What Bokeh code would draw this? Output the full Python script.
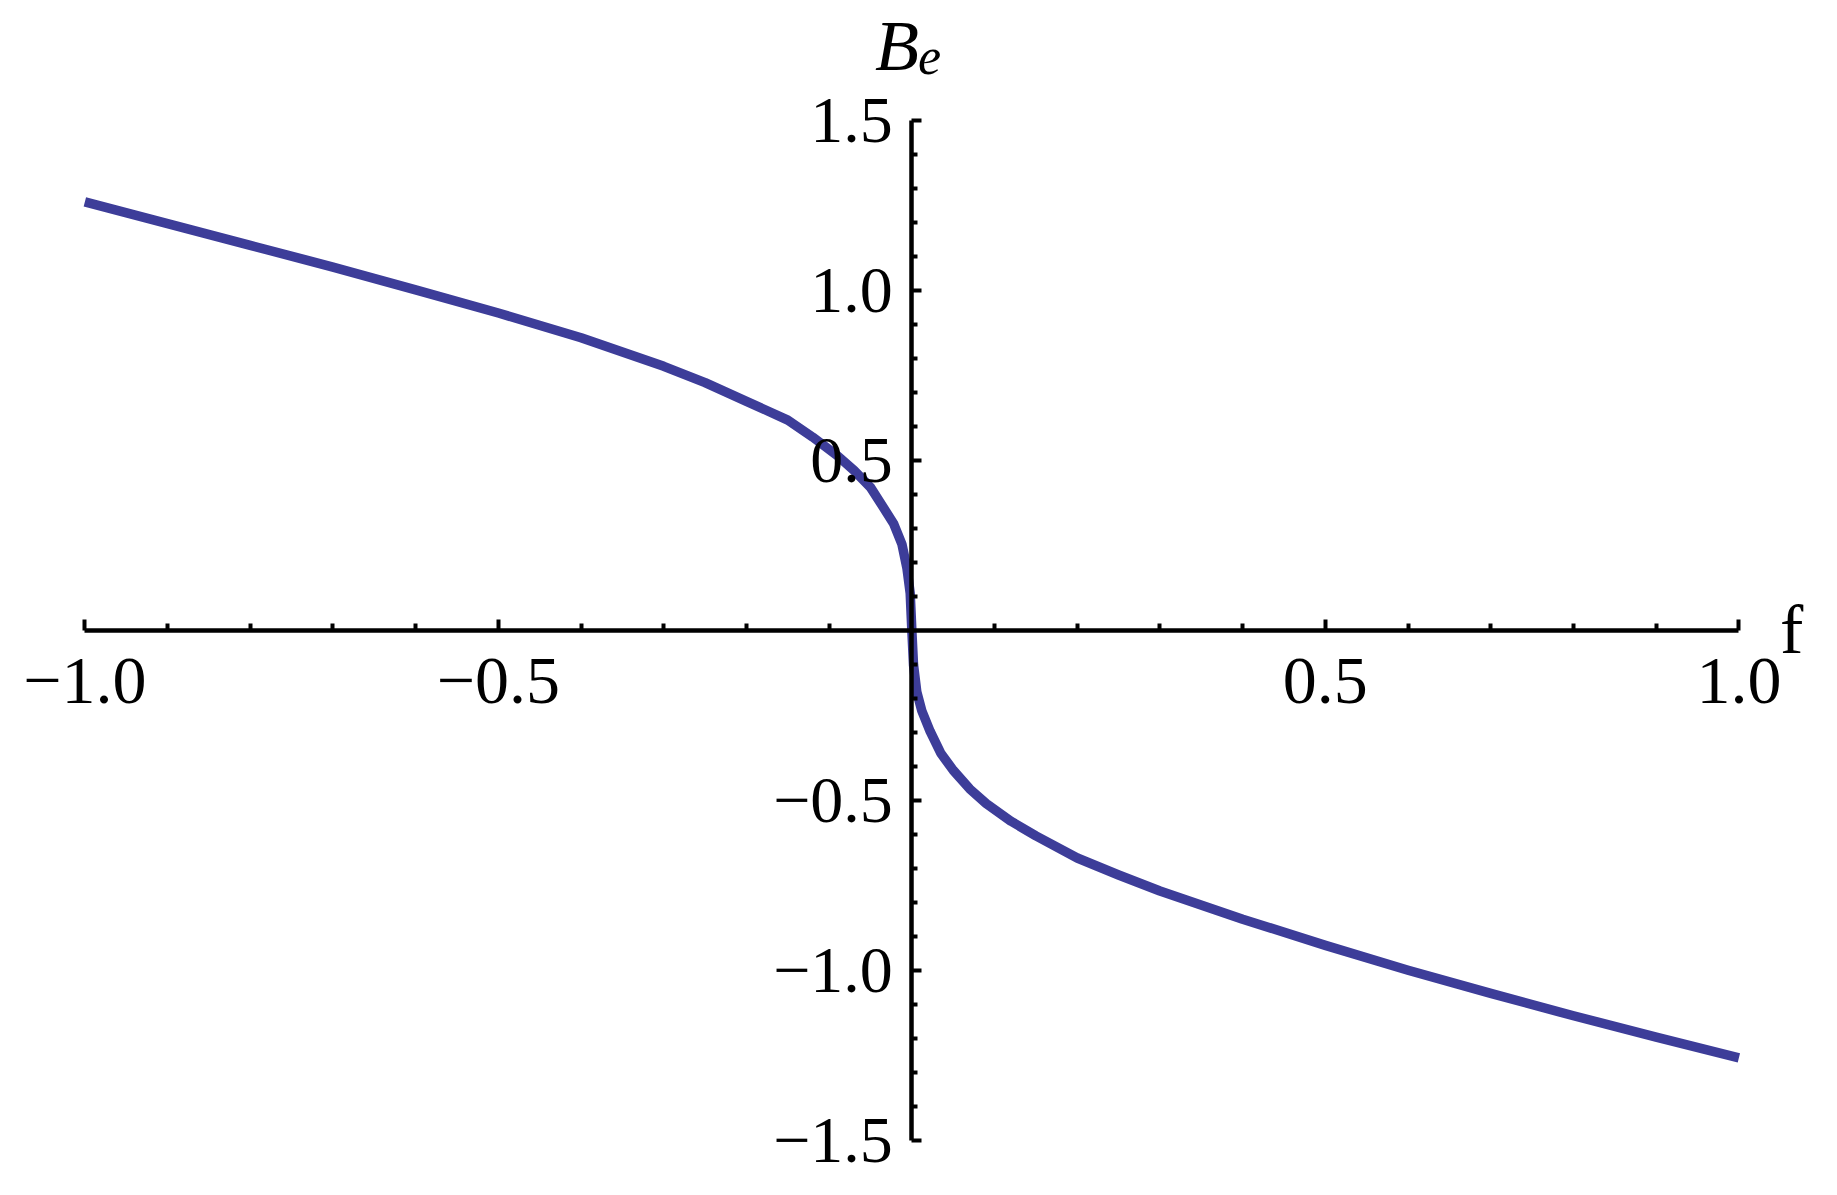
from bokeh.plotting import figure
from bokeh.models import Range1d, LinearAxis, FixedTicker, Label
from bokeh.embed import file_html
from bokeh.resources import INLINE

# ---- data ----
f_values = [-1.0, -0.9, -0.8, -0.7, -0.6, -0.5, -0.4, -0.3, -0.25, -0.2,
            -0.15, -0.12, -0.09, -0.07, -0.05, -0.035, -0.022, -0.012, -0.006, -0.002,
            0.0,
            0.002, 0.006, 0.012, 0.022, 0.035, 0.05, 0.07, 0.09, 0.12, 0.15,
            0.2, 0.25, 0.3, 0.4, 0.5, 0.6, 0.7, 0.8, 0.9, 1.0]
b_values = [1.262, 1.198, 1.134, 1.070, 1.003, 0.935, 0.862, 0.778, 0.730, 0.675,
            0.620, 0.570, 0.515, 0.472, 0.422, 0.365, 0.315, 0.255, 0.185, 0.110,
            0.0,
            -0.100, -0.180, -0.235, -0.295, -0.360, -0.410, -0.465, -0.508, -0.560, -0.603,
            -0.668, -0.718, -0.765, -0.848, -0.925, -0.998, -1.066, -1.132, -1.195, -1.256]

x_major_ticks = [-1.0, -0.5, 0.5, 1.0]
x_tick_labels = ["\u22121.0", "\u22120.5", "0.5", "1.0"]
x_minor_ticks = [-0.9, -0.8, -0.7, -0.6, -0.4, -0.3, -0.2, -0.1,
                 0.1, 0.2, 0.3, 0.4, 0.6, 0.7, 0.8, 0.9]
y_major_ticks = [-1.5, -1.0, -0.5, 0.5, 1.0, 1.5]
y_tick_labels = ["\u22121.5", "\u22121.0", "\u22120.5", "0.5", "1.0", "1.5"]
y_minor_ticks = [-1.4, -1.3, -1.2, -1.1, -0.9, -0.8, -0.7, -0.6, -0.4, -0.3, -0.2, -0.1,
                 0.1, 0.2, 0.3, 0.4, 0.6, 0.7, 0.8, 0.9, 1.1, 1.2, 1.3, 1.4]
x_axis_title = "f"
y_axis_title_main = "B"
y_axis_title_sub = "e"

FONT = "Liberation Serif"
LINE_COLOR = "#3d3d99"

p = figure(width=1821, height=1179,
           x_range=Range1d(-1.102, 1.0999), y_range=Range1d(-1.6136, 1.854),
           output_backend="svg", toolbar_location=None,
           x_axis_location=None, y_axis_location=None, min_border=0)
p.outline_line_color = None
p.grid.visible = False
p.background_fill_color = "white"
p.border_fill_color = "white"

p.line(f_values, b_values, line_color=LINE_COLOR, line_width=9.5,
       line_join="round", line_cap="butt")

xaxis = LinearAxis(ticker=FixedTicker(ticks=x_major_ticks, minor_ticks=x_minor_ticks),
                   fixed_location=0, bounds=(-1.0, 1.0))
xaxis.major_label_overrides = dict(zip(x_major_ticks, x_tick_labels))
yaxis = LinearAxis(ticker=FixedTicker(ticks=y_major_ticks, minor_ticks=y_minor_ticks),
                   fixed_location=0, bounds=(-1.5, 1.5))
yaxis.major_label_overrides = dict(zip(y_major_ticks, y_tick_labels))

for ax in (xaxis, yaxis):
    ax.axis_line_color = "black"
    ax.axis_line_width = 4.5
    ax.major_tick_line_color = "black"
    ax.minor_tick_line_color = "black"
    ax.major_tick_line_width = 4
    ax.minor_tick_line_width = 4
    ax.major_tick_out = 0
    ax.minor_tick_out = 0
    ax.major_label_text_font = FONT
    ax.major_label_text_color = "black"

xaxis.major_label_text_font_size = "68px"
yaxis.major_label_text_font_size = "66px"
xaxis.major_tick_in = 11
xaxis.minor_tick_in = 7
xaxis.major_label_standoff = 28
yaxis.major_tick_in = 10
yaxis.minor_tick_in = 6
yaxis.major_label_standoff = 19

p.add_layout(xaxis, "below")
p.add_layout(yaxis, "left")

p.add_layout(Label(x=1.0496, y=0.005, text=x_axis_title, text_font=FONT,
                   text_font_size="70px", text_color="black",
                   text_baseline="alphabetic", text_align="left"))
p.add_layout(Label(x=-0.0447, y=1.7193, text=y_axis_title_main, text_font=FONT,
                   text_font_style="italic", text_font_size="72px", text_color="black",
                   text_baseline="alphabetic", text_align="left"))
p.add_layout(Label(x=0.0073, y=1.6893, text=y_axis_title_sub, text_font=FONT,
                   text_font_style="italic", text_font_size="52px", text_color="black",
                   text_baseline="alphabetic", text_align="left"))

open("out.html", "w").write(file_html(p, INLINE))
